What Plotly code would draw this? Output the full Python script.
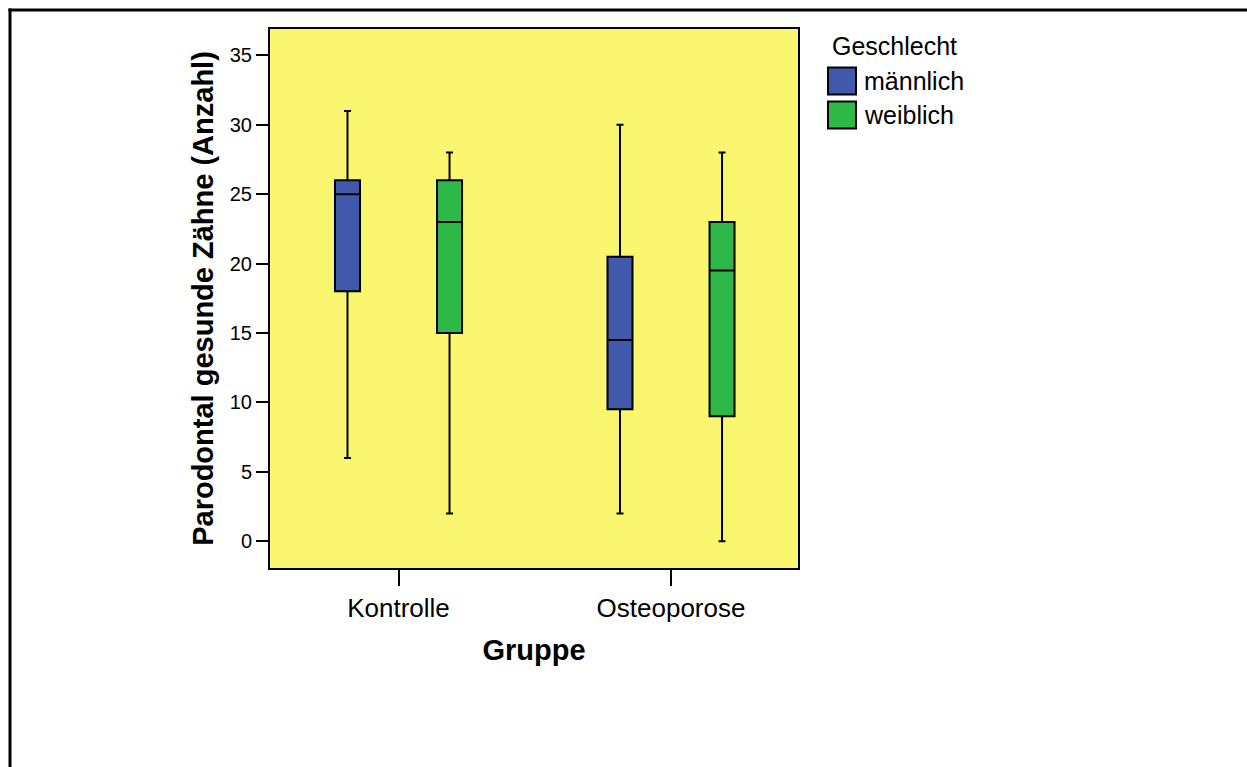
import plotly.graph_objects as go

# ---- data ----
groups = ["Kontrolle", "Osteoporose"]
series_names = ["männlich", "weiblich"]
male_lower = [6, 2]
male_q1 = [18, 9.5]
male_median = [25, 14.5]
male_q3 = [26, 20.5]
male_upper = [31, 30]
female_lower = [2, 0]
female_q1 = [15, 9]
female_median = [23, 19.5]
female_q3 = [26, 23]
female_upper = [28, 28]
y_ticks = [0, 5, 10, 15, 20, 25, 30, 35]

colors = ["#4059AB", "#2EB848"]
FONT = "Liberation Sans, Arial, sans-serif"

W, H = 1247, 767
L, R, T, B = 270, 798, 29, 568


def px(x):
    return (x - L) / (R - L)


def py(y):
    return (B - y) / (B - T)


fig = go.Figure()
for name, lo, q1, med, q3, up, col in [
    (series_names[0], male_lower, male_q1, male_median, male_q3, male_upper, colors[0]),
    (series_names[1], female_lower, female_q1, female_median, female_q3, female_upper, colors[1]),
]:
    fig.add_trace(go.Box(
        x=groups, name=name, q1=q1, median=med, q3=q3,
        lowerfence=lo, upperfence=up,
        fillcolor=col, line=dict(color="black", width=2),
        whiskerwidth=0.28, boxpoints=False, showlegend=False,
        hoverinfo="skip",
    ))

shapes = [
    # outer frame: only top and left edges are inside the page
    dict(type="line", xref="paper", yref="paper",
         x0=px(8.5), x1=px(1247), y0=py(10), y1=py(10),
         line=dict(color="black", width=3), layer="above"),
    dict(type="line", xref="paper", yref="paper",
         x0=px(10), x1=px(10), y0=py(8.5), y1=py(767),
         line=dict(color="black", width=3), layer="above"),
]
annotations = [
    dict(text="Geschlecht", xref="paper", yref="paper", x=px(830), y=py(46),
         xanchor="left", yanchor="middle", showarrow=False,
         font=dict(family=FONT, size=25, color="black")),
]
legend_rows = [81, 115]
for name, col, yc in zip(series_names, colors, legend_rows):
    shapes.append(dict(type="rect", xref="paper", yref="paper",
                       x0=px(828), x1=px(856), y0=py(yc + 13.5), y1=py(yc - 13.5),
                       line=dict(color="black", width=2), fillcolor=col))
    annotations.append(dict(text=name, xref="paper", yref="paper", x=px(862), y=py(yc),
                            xanchor="left", yanchor="middle", showarrow=False,
                            font=dict(family=FONT, size=25, color="black")))

fig.update_layout(
    width=W, height=H,
    margin=dict(l=L, r=W - R, t=T, b=H - B, pad=0),
    paper_bgcolor="white", plot_bgcolor="#FAF670",
    boxmode="group", boxgap=0.251, boxgroupgap=0.755,
    font=dict(family=FONT, color="black"),
    shapes=shapes, annotations=annotations,
    showlegend=False,
)
fig.update_xaxes(
    type="category", range=[-0.4716, 1.466],
    showline=True, linecolor="black", linewidth=2, mirror=True,
    ticks="outside", ticklen=16, tickwidth=2, tickcolor="black",
    tickfont=dict(family=FONT, size=26),
    title=dict(text="<b>Gruppe</b>", font=dict(family=FONT, size=29), standoff=17),
    showgrid=False, zeroline=False,
)
fig.update_yaxes(
    range=[-1.93, 36.9], tickvals=y_ticks,
    showline=True, linecolor="black", linewidth=2, mirror=True,
    ticks="outside", ticklen=12, tickwidth=2, tickcolor="black",
    tickfont=dict(family=FONT, size=20),
    title=dict(text="<b>Parodontal gesunde Zähne (Anzahl)</b>", font=dict(family=FONT, size=29), standoff=8),
    showgrid=False, zeroline=False,
)

fig.write_html("out.html")
